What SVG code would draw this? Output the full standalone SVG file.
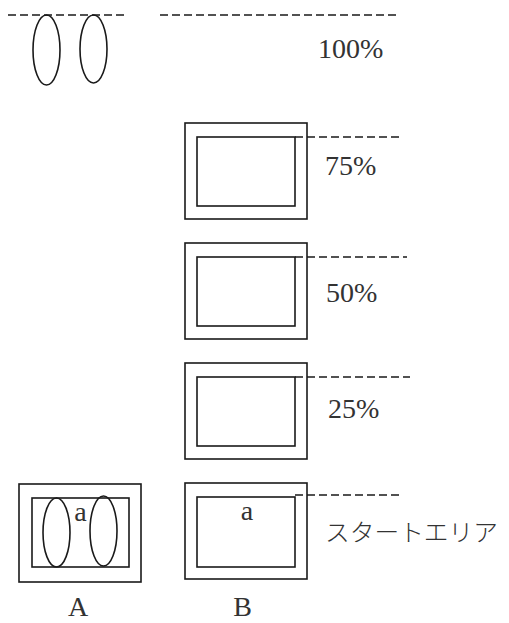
<svg xmlns="http://www.w3.org/2000/svg" width="509" height="623" viewBox="0 0 509 623">
<style>
.s{fill:none;stroke:#1a1a1a;stroke-width:1.6}
.d{fill:none;stroke:#1a1a1a;stroke-width:1.5;stroke-dasharray:8 4}
.t{font-family:"Liberation Serif","Noto Sans CJK JP",serif;font-size:28px;fill:#333}
.j{font-family:"Noto Sans CJK JP",sans-serif;font-size:24px;fill:#333;font-weight:300}
</style>
<rect width="509" height="623" fill="#fff"/>
<g id="connectors">
<line class="d" x1="8" y1="15" x2="125" y2="15"/>
<line class="d" x1="160" y1="15" x2="397" y2="15"/>
<line class="d" x1="295" y1="137" x2="403" y2="137"/>
<line class="d" x1="295" y1="257" x2="407" y2="257"/>
<line class="d" x1="295" y1="377" x2="410" y2="377"/>
<line class="d" x1="295" y1="495" x2="399" y2="495"/>
</g>
<g id="top-ovals">
<ellipse class="s" cx="46.5" cy="50" rx="13.5" ry="35"/>
<ellipse class="s" cx="93.5" cy="49" rx="13.5" ry="34"/>
</g>
<g id="label-100"><text class="t" x="318" y="58">100%</text></g>
<g id="box-75">
<rect class="s" x="185" y="123" width="122" height="96"/>
<rect class="s" x="197" y="137" width="98" height="69"/>
<text class="t" x="325" y="175">75%</text>
</g>
<g id="box-50">
<rect class="s" x="185" y="243" width="122" height="96"/>
<rect class="s" x="197" y="257" width="98" height="69"/>
<text class="t" x="326" y="302">50%</text>
</g>
<g id="box-25">
<rect class="s" x="185" y="363" width="122" height="96"/>
<rect class="s" x="197" y="377" width="98" height="69"/>
<text class="t" x="328" y="418">25%</text>
</g>
<g id="box-start">
<rect class="s" x="185" y="483" width="122" height="96"/>
<rect class="s" x="197" y="497" width="98" height="70"/>
<text class="t" x="247" y="520" text-anchor="middle">a</text>
<text class="j" x="325" y="541" textLength="173" lengthAdjust="spacingAndGlyphs">スタートエリア</text>
</g>
<g id="box-A">
<rect class="s" x="19" y="484" width="122" height="98"/>
<rect class="s" x="32" y="498" width="97" height="69"/>
<ellipse class="s" cx="56.5" cy="532.5" rx="13.5" ry="34.5"/>
<ellipse class="s" cx="103.5" cy="531" rx="13.5" ry="35"/>
<text class="t" x="80.5" y="521" text-anchor="middle">a</text>
</g>
<g id="label-A"><text class="t" x="78" y="616" text-anchor="middle">A</text></g>
<g id="label-B"><text class="t" x="242.5" y="616" text-anchor="middle">B</text></g>
</svg>
